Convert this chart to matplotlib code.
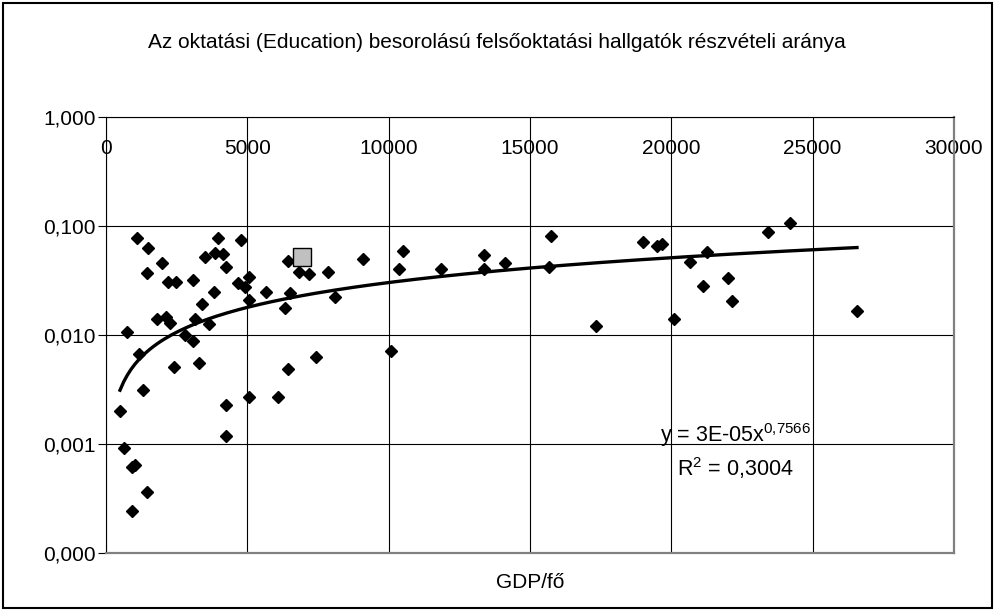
import numpy as np
import matplotlib.pyplot as plt
from matplotlib.patches import Rectangle

plt.rcParams['font.family'] = ['Liberation Sans', 'DejaVu Sans']
plt.rcParams['mathtext.fontset'] = 'custom'
plt.rcParams['mathtext.rm'] = 'Liberation Sans'
plt.rcParams['mathtext.default'] = 'regular'

# adatok (GDP/fő, részvételi arány)
gdp = [1086, 1476, 1971, 1462, 2184, 2488, 3068, 3953, 3514, 3858,
       4130, 4247, 4767, 3822, 3387, 5061, 4682, 4919, 5652, 5071,
       6452, 6830, 7195, 7867, 6522, 8104, 6335, 1794, 2123, 2265,
       3150, 3656, 733, 2796, 3068, 1178, 2407, 3302, 1299, 495,
       4247, 5061, 6098, 6452, 7421, 4247, 637, 910, 1026, 1440,
       931, 9106, 10522, 10369, 11845, 13377, 13377, 14120, 15738, 15678,
       17341, 18980, 19489, 19666, 10076, 20077, 20668, 21259, 21117, 22002,
       22143, 23403, 24182, 26568]
arany = [0.0781, 0.0624, 0.0455, 0.0368, 0.0308, 0.0308, 0.0320, 0.0781, 0.0523, 0.0569,
         0.0550, 0.0418, 0.0744, 0.0248, 0.0193, 0.0343, 0.0298, 0.0277, 0.0246, 0.0210,
         0.0480, 0.0376, 0.0363, 0.0381, 0.0241, 0.0225, 0.0176, 0.0139, 0.0145, 0.0128,
         0.0139, 0.0126, 0.01066, 0.0100, 0.00887, 0.00665, 0.00505, 0.00557, 0.00313, 0.00201,
         0.00228, 0.00272, 0.00272, 0.00484, 0.00632, 0.00118, 0.000912, 0.00062, 0.00064, 0.00036,
         0.000243, 0.0498, 0.0590, 0.0401, 0.0401, 0.0542, 0.0401, 0.0461, 0.0809, 0.0418,
         0.01217, 0.0709, 0.0655, 0.0684, 0.00713, 0.0139, 0.0470, 0.0574, 0.0282, 0.0336,
         0.0206, 0.0887, 0.1059, 0.0166]

# kiemelt ország (szürke négyzet)
kiemelt_gdp = [6947]
kiemelt_arany = [0.0516]

# hatványfüggvény trendvonal: y = a * x^b
trend_a = 2.85e-05
trend_b = 0.7566

y_ticks = [0.0001, 0.001, 0.01, 0.1, 1.0]
y_labels = ["0,000", "0,001", "0,010", "0,100", "1,000"]
x_ticks = [0, 5000, 10000, 15000, 20000, 25000, 30000]

fig = plt.figure(figsize=(9.94, 6.10), dpi=100)
ax = fig.add_axes([106 / 994, 57 / 610, 848 / 994, 436 / 610])

xt = np.linspace(min(gdp), max(gdp), 200)
ax.plot(xt, trend_a * xt ** trend_b, color='black', lw=2.4, zorder=3)
ax.plot(gdp, arany, 'D', color='black', ms=6.2, zorder=4)
ax.plot(kiemelt_gdp, kiemelt_arany, 's', mfc='#c0c0c0', mec='black', mew=1, ms=13, zorder=5)

ax.set_yscale('log')
ax.set_ylim(0.0001, 1.0)
ax.set_xlim(0, 30000)
ax.set_yticks(y_ticks)
ax.set_yticklabels(y_labels)
ax.minorticks_off()
ax.set_xticks(x_ticks)
ax.set_xticklabels([str(v) for v in x_ticks])

ax.grid(True, color='black', lw=0.8)
ax.set_axisbelow(True)

# x tengely felül (1,000-nál metszi), címkék alatta
ax.tick_params(axis='x', bottom=False, labelbottom=False, top=False, labeltop=True,
               pad=-26, labelsize=15)
for lab in ax.get_xticklabels():
    lab.set_va('center')
ax.tick_params(axis='y', direction='out', length=5.5, width=0.8, labelsize=15, pad=2)

for s in ['right', 'bottom']:
    ax.spines[s].set_color('#808080')
    ax.spines[s].set_linewidth(1.6)
ax.spines['left'].set_color('black')
ax.spines['top'].set_color('black')

fig.text(0.5, 1 - 42 / 610, "Az oktatási (Education) besorolású felsőoktatási hallgatók részvételi aránya",
         ha='center', va='center', fontsize=15)
fig.text(530 / 994, 1 - 582 / 610, "GDP/fő", ha='center', va='center', fontsize=15)

ax.text(0.742, 0.271, "y = 3E-05x$^{0{,}7566}$", transform=ax.transAxes, fontsize=15.5,
        ha='center', va='center')
ax.text(0.742, 0.195, "R$^{2}$ = 0,3004", transform=ax.transAxes, fontsize=15.5,
        ha='center', va='center')

# keret az egész ábra körül
fig.patches.append(Rectangle((3 / 994, 2 / 610), 989 / 994, 605 / 610, transform=fig.transFigure,
                             fill=False, edgecolor='black', lw=1.5))

fig.savefig("out.png", dpi=100)
